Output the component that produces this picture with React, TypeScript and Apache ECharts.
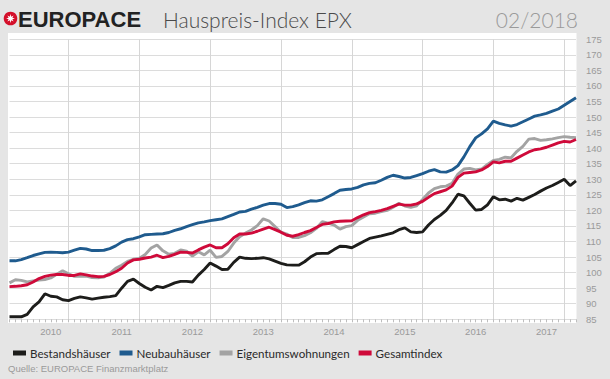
import React, { useEffect, useRef } from 'react';
import * as echarts from 'echarts';

// Monthly categories Feb 2010 .. Feb 2018
const START_YEAR = 2010;
const START_MONTH = 2;
const POINTS = 97;
const months: string[] = [];
for (let i = 0; i < POINTS; i++) {
  const m = START_MONTH - 1 + i;
  const y = START_YEAR + Math.floor(m / 12);
  const mm = (m % 12) + 1;
  months.push(`${y}-${String(mm).padStart(2, '0')}`);
}

const yearLabels = ['2010', '2011', '2012', '2013', '2014', '2015', '2016', '2017'];
const seriesNames = ['Bestandshäuser', 'Neubauhäuser', 'Eigentumswohnungen', 'Gesamtindex'];
const seriesColors = ['#1d1d1b', '#1f5b8e', '#a3a3a3', '#cf0a3a'];

const bestand = [
  85.8, 85.8, 85.8, 86.6, 89.0, 90.6, 93.2, 92.4, 92.2, 91.3,
  91.0, 91.7, 92.2, 91.9, 91.5, 91.8, 92.1, 92.3, 92.6, 95.0,
  97.2, 97.9, 96.5, 95.3, 94.4, 95.6, 95.2, 95.9, 96.7, 97.2,
  97.2, 97.0, 99.2, 101.0, 103.1, 102.1, 101.0, 101.1, 103.3, 105.0,
  104.6, 104.5, 104.6, 104.8, 104.4, 103.7, 103.0, 102.5, 102.4, 102.4,
  103.5, 105.0, 106.1, 106.2, 106.2, 107.4, 108.5, 108.4, 108.0, 109.0,
  110.0, 111.0, 111.4, 111.8, 112.3, 112.8, 113.8, 114.4, 113.1, 112.9,
  113.1, 115.3, 117.1, 118.4, 120.0, 122.4, 125.2, 124.7, 122.3, 120.1,
  120.3, 121.8, 124.4, 123.4, 123.6, 123.0, 123.9, 123.3, 124.2, 125.1,
  126.2, 127.2, 128.0, 129.0, 130.0, 128.0, 129.5,
];

const neubau = [
  103.8, 103.8, 104.2, 104.8, 105.5, 106.0, 106.5, 106.6, 106.5, 106.4,
  106.6, 107.2, 107.8, 107.6, 107.1, 107.1, 107.2, 107.7, 108.6, 109.8,
  110.6, 110.9, 111.5, 112.2, 112.3, 112.4, 112.5, 112.9, 113.6, 114.1,
  114.8, 115.4, 116.0, 116.3, 116.7, 117.0, 117.3, 118.0, 118.7, 119.5,
  119.7, 120.4, 121.0, 121.7, 122.2, 122.2, 122.0, 120.9, 121.2, 121.8,
  122.5, 123.1, 123.0, 123.4, 124.4, 125.4, 126.5, 126.7, 126.9, 127.4,
  128.2, 128.7, 128.9, 129.7, 130.6, 131.3, 130.9, 130.4, 130.6, 131.2,
  131.8, 132.6, 133.1, 132.4, 132.3, 133.0, 134.4, 137.2, 140.5, 143.3,
  144.6, 146.2, 148.7, 148.0, 147.5, 147.1, 147.6, 148.5, 149.4, 150.3,
  150.7, 151.2, 151.9, 152.6, 153.8, 155.0, 156.2,
];

const eigentum = [
  96.7, 97.7, 97.5, 97.0, 97.3, 97.6, 97.8, 98.3, 99.5, 100.6,
  99.6, 98.8, 98.8, 98.9, 98.4, 98.3, 98.6, 99.8, 101.4, 102.4,
  103.6, 104.3, 104.6, 105.8, 107.9, 108.9, 107.0, 105.9, 106.2, 107.3,
  106.9, 105.3, 106.7, 105.7, 107.2, 104.9, 105.2, 106.8, 109.5, 111.5,
  112.7, 113.7, 115.1, 117.3, 116.6, 114.8, 113.0, 112.4, 111.3, 111.3,
  111.9, 112.8, 114.2, 116.4, 115.9, 115.3, 114.0, 114.8, 115.1, 116.8,
  117.9, 118.9, 119.1, 119.6, 120.0, 121.0, 122.3, 121.4, 121.0, 121.5,
  123.5, 125.6, 127.0, 127.6, 127.8, 128.7, 131.7, 133.3, 133.5, 133.0,
  133.3, 134.8, 136.1, 136.4, 137.1, 136.9, 139.0, 140.6, 142.9, 143.1,
  142.5, 142.7, 143.0, 143.4, 143.7, 143.5, 143.4,
];

const gesamt = [
  95.5, 95.6, 95.8, 96.1, 97.0, 98.1, 98.8, 99.2, 99.4, 99.4,
  99.1, 99.1, 99.6, 99.3, 98.9, 98.7, 98.8, 99.4, 100.3, 101.4,
  103.1, 104.1, 104.3, 104.7, 105.0, 105.6, 104.8, 105.2, 105.9, 106.6,
  106.5, 106.3, 107.3, 108.2, 108.9, 108.0, 108.0, 109.3, 111.2, 112.4,
  112.4, 112.7, 113.3, 114.0, 114.6, 113.8, 113.0, 112.0, 111.7, 112.2,
  112.9, 113.5, 114.5, 115.5, 115.8, 116.3, 116.5, 116.6, 116.7, 117.7,
  118.6, 119.3, 119.6, 120.0, 120.6, 121.3, 122.0, 121.7, 121.7, 122.1,
  122.9, 124.2, 125.4, 126.0, 126.6, 127.8, 130.6, 132.0, 132.2, 132.4,
  133.0, 134.1, 135.6, 135.3, 135.8, 135.8, 136.8, 137.8, 138.8, 139.5,
  139.8, 140.3, 141.0, 141.7, 142.2, 142.0, 142.8,
];

const seriesData = [bestand, neubau, eigentum, gesamt];

const Y_MIN = 85;
const Y_MAX = 175;
const Y_STEP = 5;

function starPoints(cx: number, cy: number, ro: number, ri: number, n: number) {
  const pts: number[][] = [];
  for (let k = 0; k < n * 2; k++) {
    const r = k % 2 === 0 ? ro : ri;
    const a = (Math.PI * k) / n;
    pts.push([cx + r * Math.cos(a), cy + r * Math.sin(a)]);
  }
  return pts;
}

export default function App() {
  const ref = useRef<HTMLDivElement>(null);
  useEffect(() => {
    if (!ref.current) return;
    const chart = echarts.init(ref.current, undefined, { renderer: 'svg' });
    const option: any = {
      animation: false,
      backgroundColor: '#e5e5e5',
      textStyle: { fontFamily: 'Liberation Sans, Arial, sans-serif' },
      graphic: [
        { type: 'rect', z: -10, shape: { x: 8, y: 33, width: 568.5, height: 290 }, style: { fill: '#ffffff' } },
        { type: 'circle', shape: { cx: 10.5, cy: 18.5, r: 6.8 }, style: { fill: '#d40f2a' } },
        { type: 'polygon', shape: { points: starPoints(10.5, 18.5, 4.4, 2.0, 8) }, style: { fill: '#ffffff' } },
        {
          type: 'text', x: 18, y: 19,
          style: { text: 'EUROPACE', fontSize: 22, fontWeight: 'bold', fontFamily: 'Liberation Sans, Arial', fill: '#222222', verticalAlign: 'middle' },
        },
        {
          type: 'text', x: 163, y: 19,
          style: { text: 'Hauspreis-Index EPX', fontSize: 21, fontWeight: 300, fontFamily: 'Lato', fill: '#4a4a4a', verticalAlign: 'middle' },
        },
        {
          type: 'text', x: 578, y: 19,
          style: { text: '02/2018', fontSize: 21, fontWeight: 300, fontFamily: 'Lato', fill: '#9a9a9a', align: 'right', verticalAlign: 'middle' },
        },
        {
          type: 'text', x: 8, y: 368,
          style: { text: 'Quelle: EUROPACE Finanzmarktplatz', fontSize: 9.5, fontFamily: 'Liberation Sans, Arial', fill: '#9a9a9a', verticalAlign: 'middle' },
        },
      ],
      legend: {
        left: 8,
        top: 342,
        icon: 'rect',
        itemWidth: 13,
        itemHeight: 5,
        itemGap: 9,
        textStyle: { fontSize: 11.6, fontFamily: 'Lato', color: '#2a2a2a', padding: [0, 0, 0, -1] },
        data: seriesNames,
      },
      grid: { left: 9.5, right: 34, top: 39.3, bottom: 59.7, containLabel: false },
      xAxis: {
        type: 'category',
        boundaryGap: false,
        data: months,
        axisLine: { show: false },
        axisTick: { show: true, interval: 0, length: 3, lineStyle: { color: '#bdbdbd' } },
        axisLabel: {
          interval: (_i: number, v: string) => v.endsWith('-09') && yearLabels.includes(v.slice(0, 4)),
          formatter: (v: string) => v.slice(0, 4),
          color: '#9a9a9a',
          fontSize: 9.5,
          margin: 7,
        },
        splitLine: {
          show: true,
          interval: (_i: number, v: string) => v.endsWith('-12'),
          lineStyle: { color: '#d6d6d6', width: 1 },
        },
      },
      yAxis: {
        type: 'value',
        position: 'right',
        min: Y_MIN,
        max: Y_MAX,
        interval: Y_STEP,
        axisLine: { show: false },
        axisTick: { show: false },
        axisLabel: { color: '#9a9a9a', fontSize: 9.5, margin: 10 },
        splitLine: { show: true, lineStyle: { color: '#dcdcdc', width: 1 } },
      },
      series: seriesNames.map((name, k) => ({
        name,
        type: 'line',
        data: seriesData[k],
        showSymbol: false,
        symbol: 'none',
        color: seriesColors[k],
        lineStyle: { color: seriesColors[k], width: 2.9 },
        z: 2 + k,
      })),
    };
    chart.setOption(option);
    return () => chart.dispose();
  }, []);
  return (
    <div
      ref={ref}
      style={{ position: 'absolute', left: 0, top: 0, width: 610, height: 379 }}
    />
  );
}
